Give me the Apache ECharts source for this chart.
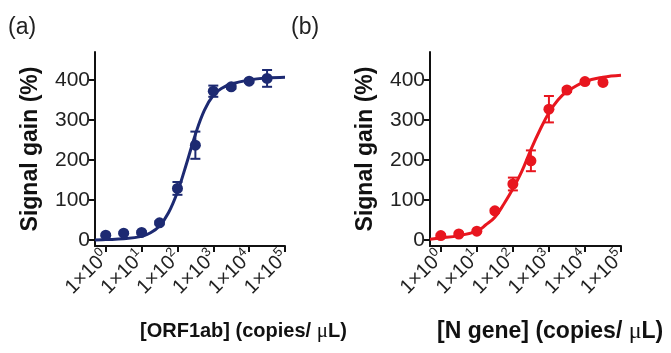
<!DOCTYPE html>
<html>
<head>
<meta charset="utf-8">
<script src="https://cdn.jsdelivr.net/npm/echarts@6/dist/echarts.min.js"></script>
<style>
  html, body { margin: 0; padding: 0; background: #fff; }
  #chart { width: 671px; height: 353px; }
</style>
</head>
<body>
<div id="chart"></div>
<script>
// x values are log10 of the concentration (copies/uL)
const logConc = [0, 0.5, 1, 1.5, 2, 2.5, 3, 3.5, 4, 4.5];
const orfMean = [12, 17, 19, 43, 129, 237, 372, 383, 397, 404];
const orfErr = [3, 3, 3, 4, 16, 34, 14, 5, 4, 21];
const nMean = [11, 15, 22, 73, 140, 198, 327, 375, 396, 394];
const nErr = [3, 3, 3, 4, 16, 26, 33, 5, 4, 4];

// fitted curves
const fitX = [-0.3, 0, 0.5, 1, 1.25, 1.5, 1.75, 2, 2.25, 2.5, 2.75, 3, 3.25, 3.5, 4, 4.5, 5];
const orfFit = [0, 1, 3, 9, 18, 35, 68, 120, 190, 264, 324, 362, 380, 390, 400, 405, 407];
const nFit = [2, 5, 11, 22, 38, 57, 90, 128, 172, 226, 275, 318, 350, 371, 396, 407, 412];

const xTicks = [0, 1, 2, 3, 4, 5];
const yTicks = [0, 100, 200, 300, 400];
const supDigits = ["0", "1", "2", "3", "4", "5"];

const navy = "#1d2a72";
const red = "#e8161f";
const font = "Liberation Sans, Arial, sans-serif";

const chart = echarts.init(document.getElementById("chart"));

function pairs(xs, ys) {
  return xs.map((x, i) => [x, ys[i]]);
}

function errData(means, errs) {
  return logConc.map((x, i) => [x, means[i] - errs[i], means[i] + errs[i]]);
}

function errorBars(color) {
  return function (params, api) {
    const x = api.value(0);
    const lo = api.coord([x, api.value(1)]);
    const hi = api.coord([x, api.value(2)]);
    const cap = 5;
    const style = { stroke: color, lineWidth: 2 };
    return {
      type: "group",
      children: [
        { type: "line", shape: { x1: lo[0], y1: lo[1], x2: hi[0], y2: hi[1] }, style },
        { type: "line", shape: { x1: lo[0] - cap, y1: lo[1], x2: lo[0] + cap, y2: lo[1] }, style },
        { type: "line", shape: { x1: hi[0] - cap, y1: hi[1], x2: hi[0] + cap, y2: hi[1] }, style },
      ],
    };
  };
}

function xAxisFor(idx) {
  return {
    type: "value",
    gridIndex: idx,
    min: -0.3,
    max: 5,
    axisLine: { onZero: false, lineStyle: { color: "#111", width: 2 } },
    axisTick: { customValues: xTicks, length: 6, lineStyle: { color: "#111", width: 2 } },
    axisLabel: {
      customValues: xTicks,
      rotate: 45,
      margin: 8,
      formatter: (v) => "{b|1×10}{s|" + supDigits[Math.round(v)] + "}",
      rich: {
        b: { fontSize: 20, fontFamily: font, color: "#222" },
        s: { fontSize: 13, fontFamily: font, color: "#222", padding: [0, 0, 12, 0] },
      },
    },
    splitLine: { show: false },
  };
}

function yAxisFor(idx) {
  return {
    type: "value",
    gridIndex: idx,
    min: -15,
    max: 470,
    name: "Signal gain (%)",
    nameLocation: "middle",
    nameGap: 53,
    nameTextStyle: { fontSize: 23, fontWeight: "bold", fontFamily: font, color: "#111" },
    axisLine: { show: true, onZero: false, lineStyle: { color: "#111", width: 2 } },
    axisTick: { show: true, customValues: yTicks, length: 6, lineStyle: { color: "#111", width: 2 } },
    axisLabel: { customValues: yTicks, margin: 5, fontSize: 21, fontFamily: font, color: "#222" },
    splitLine: { show: false },
  };
}

function panelSeries(idx, color, means, errs, fit) {
  return [
    {
      type: "line",
      xAxisIndex: idx,
      yAxisIndex: idx,
      data: pairs(fitX, fit),
      smooth: 0.4,
      showSymbol: false,
      lineStyle: { color, width: 3 },
      z: 2,
    },
    {
      type: "custom",
      xAxisIndex: idx,
      yAxisIndex: idx,
      data: errData(means, errs),
      renderItem: errorBars(color),
      z: 3,
    },
    {
      type: "scatter",
      xAxisIndex: idx,
      yAxisIndex: idx,
      data: pairs(logConc, means),
      symbolSize: 11,
      itemStyle: { color, opacity: 1 },
      z: 4,
    },
  ];
}

const option = {
  backgroundColor: "#fff",
  animation: false,
  title: [
    { text: "(a)", left: 8, top: 16, padding: 0, textStyle: { fontSize: 23, fontWeight: "normal", fontFamily: font, color: "#222" } },
    { text: "(b)", left: 291, top: 16, padding: 0, textStyle: { fontSize: 23, fontWeight: "normal", fontFamily: font, color: "#222" } },
    {
      text: "[ORF1ab] (copies/ {mu|μ}L)",
      left: 140,
      top: 321,
      padding: 0,
      textStyle: {
        fontSize: 20, fontWeight: "bold", fontFamily: font, color: "#111",
        rich: { mu: { fontSize: 21, fontFamily: "Liberation Serif, serif", fontWeight: "normal", color: "#111" } },
      },
    },
    {
      text: "[N gene] (copies/ {mu|μ}L)",
      left: 437,
      top: 320,
      padding: 0,
      textStyle: {
        fontSize: 23, fontWeight: "bold", fontFamily: font, color: "#111",
        rich: { mu: { fontSize: 24, fontFamily: "Liberation Serif, serif", fontWeight: "normal", color: "#111" } },
      },
    },
  ],
  grid: [
    { left: 95, top: 52, width: 190, height: 194 },
    { left: 430, top: 52, width: 191, height: 194 },
  ],
  xAxis: [xAxisFor(0), xAxisFor(1)],
  yAxis: [yAxisFor(0), yAxisFor(1)],
  series: [
    ...panelSeries(0, navy, orfMean, orfErr, orfFit),
    ...panelSeries(1, red, nMean, nErr, nFit),
  ],
};

chart.setOption(option);
</script>
</body>
</html>
